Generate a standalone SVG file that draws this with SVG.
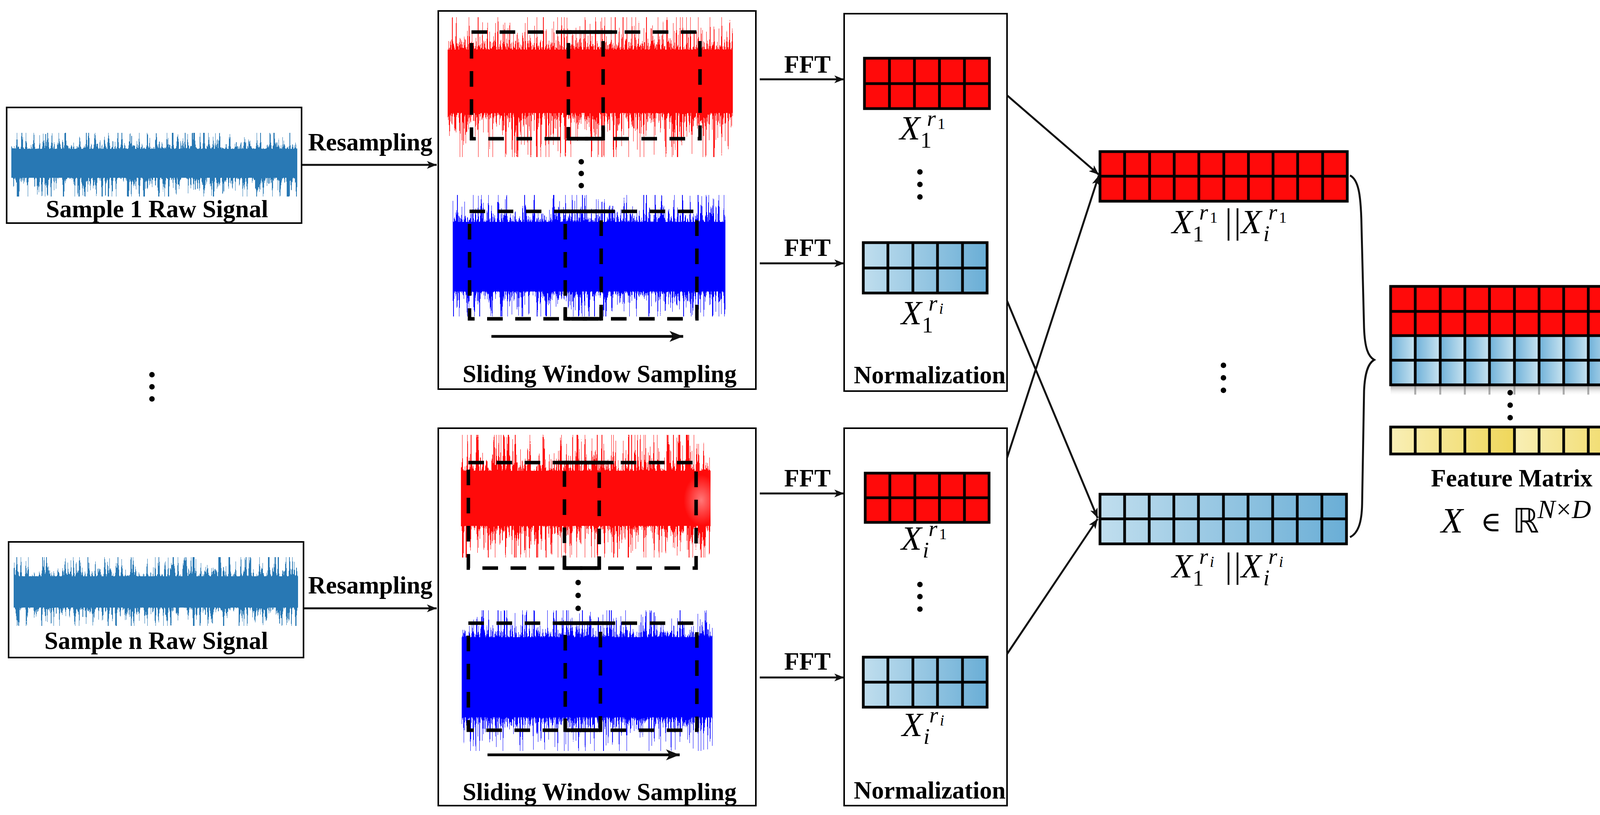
<svg xmlns="http://www.w3.org/2000/svg" width="4227" height="2086" viewBox="0 0 4227 2086">
<style>
.box{fill:none;stroke:#000;stroke-width:4}
.lbl{font-family:"Liberation Serif","Times New Roman",serif;font-weight:bold;font-size:63px;fill:#000;text-anchor:middle}
.mx{font-family:"Liberation Serif","Times New Roman",serif;font-style:italic;font-size:86px;fill:#000}
.ms{font-family:"Liberation Serif","Times New Roman",serif;font-style:italic;font-size:58px;fill:#000}
.mn{font-family:"Liberation Serif","Times New Roman",serif;font-size:58px;fill:#000}
.mss{font-family:"Liberation Serif","Times New Roman",serif;font-style:italic;font-size:40px;fill:#000}
.mns{font-family:"Liberation Serif","Times New Roman",serif;font-size:40px;fill:#000}
.bar{font-family:"Liberation Serif","Times New Roman",serif;font-size:90px;letter-spacing:5px;fill:#000}
.gl{fill:none;stroke:#000;stroke-width:7}
.dash{fill:none;stroke:#000;stroke-width:9;stroke-dasharray:40 32}
.solid{fill:none;stroke:#000;stroke-width:9}
.conn{fill:none;stroke:#111;stroke-width:5}
.dot{fill:#000}
.red{fill:#ff0a0a}
</style>
<defs>
<marker id="ah" viewBox="0 0 10 8" refX="10" refY="4" markerWidth="5" markerHeight="4" orient="auto"><path d="M0,0 L10,4 L0,8 L2.5,4 z" fill="#111"/></marker>
<linearGradient id="gT45" x1="0" y1="0" x2="0" y2="1"><stop offset="0" stop-color="#000" stop-opacity="0"/><stop offset="0.55" stop-color="#000" stop-opacity="0.65"/><stop offset="1" stop-color="#000" stop-opacity="1"/></linearGradient>
<linearGradient id="gB45" x1="0" y1="0" x2="0" y2="1"><stop offset="0" stop-color="#000" stop-opacity="1"/><stop offset="0.45" stop-color="#000" stop-opacity="0.65"/><stop offset="1" stop-color="#000" stop-opacity="0"/></linearGradient>
<linearGradient id="gT57" x1="0" y1="0" x2="0" y2="1"><stop offset="0" stop-color="#000" stop-opacity="0"/><stop offset="0.43" stop-color="#000" stop-opacity="0.65"/><stop offset="1" stop-color="#000" stop-opacity="1"/></linearGradient>
<linearGradient id="gB57" x1="0" y1="0" x2="0" y2="1"><stop offset="0" stop-color="#000" stop-opacity="1"/><stop offset="0.57" stop-color="#000" stop-opacity="0.65"/><stop offset="1" stop-color="#000" stop-opacity="0"/></linearGradient>
<filter id="fRawT" x="0" y="0" width="1" height="1" color-interpolation-filters="sRGB">
<feTurbulence type="fractalNoise" baseFrequency="0.2 0.0005" numOctaves="3" seed="3" result="t"/>
<feColorMatrix in="t" type="matrix" values="0 0 0 0 0 0 0 0 0 0 0 0 0 0 0 1.7 0 0 0 -0.35" result="n"/>
<feComponentTransfer in="n" result="f"><feFuncA type="table" tableValues="0.35 0.35 0.35 0.35 0.35 0.35 0.35 0.36 0.38 0.41 0.45 0.50 0.56 0.64 0.74 0.86 1 1 1 1 1"/></feComponentTransfer>
<feComposite in="SourceAlpha" in2="f" operator="arithmetic" k2="1" k3="1" k4="-0.5" result="s"/>
<feComponentTransfer in="s" result="m"><feFuncA type="discrete" tableValues="0 1"/></feComponentTransfer>
<feFlood flood-color="#2878b4"/><feComposite operator="in" in2="m"/>
</filter>
<filter id="fRawB" x="0" y="0" width="1" height="1" color-interpolation-filters="sRGB">
<feTurbulence type="fractalNoise" baseFrequency="0.2 0.0005" numOctaves="3" seed="17" result="t"/>
<feColorMatrix in="t" type="matrix" values="0 0 0 0 0 0 0 0 0 0 0 0 0 0 0 1.7 0 0 0 -0.35" result="n"/>
<feComponentTransfer in="n" result="f"><feFuncA type="table" tableValues="0.35 0.35 0.35 0.35 0.35 0.35 0.35 0.36 0.38 0.41 0.45 0.50 0.56 0.64 0.74 0.86 1 1 1 1 1"/></feComponentTransfer>
<feComposite in="SourceAlpha" in2="f" operator="arithmetic" k2="1" k3="1" k4="-0.5" result="s"/>
<feComponentTransfer in="s" result="m"><feFuncA type="discrete" tableValues="0 1"/></feComponentTransfer>
<feFlood flood-color="#2878b4"/><feComposite operator="in" in2="m"/>
</filter>
<filter id="fRedT" x="0" y="0" width="1" height="1" color-interpolation-filters="sRGB">
<feTurbulence type="fractalNoise" baseFrequency="0.3 0.0005" numOctaves="3" seed="5" result="t"/>
<feColorMatrix in="t" type="matrix" values="0 0 0 0 0 0 0 0 0 0 0 0 0 0 0 1.6 0 0 0 -0.3" result="n"/>
<feComponentTransfer in="n" result="f"><feFuncA type="table" tableValues="0.35 0.35 0.35 0.35 0.35 0.35 0.35 0.36 0.38 0.41 0.45 0.50 0.56 0.64 0.74 0.86 1 1 1 1 1"/></feComponentTransfer>
<feComposite in="SourceAlpha" in2="f" operator="arithmetic" k2="1" k3="1" k4="-0.5" result="s"/>
<feComponentTransfer in="s" result="m"><feFuncA type="discrete" tableValues="0 1"/></feComponentTransfer>
<feFlood flood-color="#ff0a0a"/><feComposite operator="in" in2="m"/>
</filter>
<filter id="fRedB" x="0" y="0" width="1" height="1" color-interpolation-filters="sRGB">
<feTurbulence type="fractalNoise" baseFrequency="0.3 0.0005" numOctaves="3" seed="23" result="t"/>
<feColorMatrix in="t" type="matrix" values="0 0 0 0 0 0 0 0 0 0 0 0 0 0 0 1.6 0 0 0 -0.3" result="n"/>
<feComponentTransfer in="n" result="f"><feFuncA type="table" tableValues="0.35 0.35 0.35 0.35 0.35 0.35 0.35 0.36 0.38 0.41 0.45 0.50 0.56 0.64 0.74 0.86 1 1 1 1 1"/></feComponentTransfer>
<feComposite in="SourceAlpha" in2="f" operator="arithmetic" k2="1" k3="1" k4="-0.5" result="s"/>
<feComponentTransfer in="s" result="m"><feFuncA type="discrete" tableValues="0 1"/></feComponentTransfer>
<feFlood flood-color="#ff0a0a"/><feComposite operator="in" in2="m"/>
</filter>
<filter id="fBluT" x="0" y="0" width="1" height="1" color-interpolation-filters="sRGB">
<feTurbulence type="fractalNoise" baseFrequency="0.3 0.0005" numOctaves="3" seed="9" result="t"/>
<feColorMatrix in="t" type="matrix" values="0 0 0 0 0 0 0 0 0 0 0 0 0 0 0 1.6 0 0 0 -0.3" result="n"/>
<feComponentTransfer in="n" result="f"><feFuncA type="table" tableValues="0.35 0.35 0.35 0.35 0.35 0.35 0.35 0.36 0.38 0.41 0.45 0.50 0.56 0.64 0.74 0.86 1 1 1 1 1"/></feComponentTransfer>
<feComposite in="SourceAlpha" in2="f" operator="arithmetic" k2="1" k3="1" k4="-0.5" result="s"/>
<feComponentTransfer in="s" result="m"><feFuncA type="discrete" tableValues="0 1"/></feComponentTransfer>
<feFlood flood-color="#0000ff"/><feComposite operator="in" in2="m"/>
</filter>
<filter id="fBluB" x="0" y="0" width="1" height="1" color-interpolation-filters="sRGB">
<feTurbulence type="fractalNoise" baseFrequency="0.3 0.0005" numOctaves="3" seed="31" result="t"/>
<feColorMatrix in="t" type="matrix" values="0 0 0 0 0 0 0 0 0 0 0 0 0 0 0 1.6 0 0 0 -0.3" result="n"/>
<feComponentTransfer in="n" result="f"><feFuncA type="table" tableValues="0.35 0.35 0.35 0.35 0.35 0.35 0.35 0.36 0.38 0.41 0.45 0.50 0.56 0.64 0.74 0.86 1 1 1 1 1"/></feComponentTransfer>
<feComposite in="SourceAlpha" in2="f" operator="arithmetic" k2="1" k3="1" k4="-0.5" result="s"/>
<feComponentTransfer in="s" result="m"><feFuncA type="discrete" tableValues="0 1"/></feComponentTransfer>
<feFlood flood-color="#0000ff"/><feComposite operator="in" in2="m"/>
</filter>
<linearGradient id="blueH" x1="0" y1="0" x2="1" y2="0"><stop offset="0" stop-color="#c0deee"/><stop offset="1" stop-color="#6aaed6"/></linearGradient>
<linearGradient id="cellB" x1="0" y1="0" x2="1" y2="0"><stop offset="0" stop-color="#6fb1d9"/><stop offset="1" stop-color="#c8e3f0"/></linearGradient>
<linearGradient id="cellY" x1="0" y1="0" x2="1" y2="0"><stop offset="0" stop-color="#f9efb6"/><stop offset="1" stop-color="#efd75a"/></linearGradient>
<pattern id="patB" patternUnits="userSpaceOnUse" x="3560" y="0" width="63.3" height="100"><rect width="63.3" height="100" fill="url(#cellB)"/></pattern>
<pattern id="patY" patternUnits="userSpaceOnUse" x="3560" y="0" width="316.5" height="100"><rect width="316.5" height="100" fill="url(#cellY)"/></pattern>
<linearGradient id="shadow" x1="0" y1="0" x2="0" y2="1"><stop offset="0" stop-color="#666" stop-opacity="0.55"/><stop offset="1" stop-color="#fff" stop-opacity="0"/></linearGradient>
<radialGradient id="fade"><stop offset="0" stop-color="#fff" stop-opacity="0.45"/><stop offset="1" stop-color="#fff" stop-opacity="0"/></radialGradient>
</defs>
<rect width="4227" height="2086" fill="#fff"/>

<!-- Sample 1 raw signal -->
<g id="sample1">
<rect class="box" x="17" y="275" width="755" height="296"/>
<rect x="29" y="340" width="732" height="75" fill="url(#gT45)" filter="url(#fRawT)"/>
<rect x="29" y="415" width="732" height="88" fill="url(#gB45)" filter="url(#fRawB)"/>
<text class="lbl" x="402" y="556">Sample 1 Raw Signal</text>
</g>

<!-- Sample n raw signal -->
<g id="samplen">
<rect class="box" x="22" y="1387" width="755" height="296"/>
<rect x="35" y="1426" width="728" height="90" fill="url(#gT45)" filter="url(#fRawT)"/>
<rect x="35" y="1516" width="728" height="86" fill="url(#gB45)" filter="url(#fRawB)"/>
<text class="lbl" x="400" y="1661">Sample n Raw Signal</text>
</g>

<g id="dots-left"><circle class="dot" cx="389" cy="959" r="7"/><circle class="dot" cx="389" cy="990" r="7"/><circle class="dot" cx="389" cy="1021" r="7"/></g>

<!-- Sliding window 1 -->
<g id="sliding1">
<rect class="box" x="1122" y="28" width="813" height="968" stroke-width="3"/>
<rect x="1146" y="44" width="730" height="152" fill="url(#gT45)" filter="url(#fRedT)"/>
<rect x="1146" y="196" width="730" height="206" fill="url(#gB45)" filter="url(#fRedB)"/>
<rect class="dash" x="1207" y="82" width="337" height="273"/>
<rect class="dash" x="1455" y="82" width="337" height="273"/>
<path class="solid" d="M1442,82 H1580 M1455,355 H1544 M1455,325 V359 M1544,325 V359"/>
<circle class="dot" cx="1488" cy="414" r="7"/><circle class="dot" cx="1488" cy="444" r="7"/><circle class="dot" cx="1488" cy="475" r="7"/>
<rect x="1159" y="499" width="698" height="161" fill="url(#gT57)" filter="url(#fBluT)"/>
<rect x="1159" y="660" width="698" height="150" fill="url(#gB57)" filter="url(#fBluB)"/>
<rect class="dash" x="1202" y="541" width="337" height="275"/>
<rect class="dash" x="1447" y="541" width="337" height="275"/>
<path class="solid" d="M1435,541 H1574 M1447,816 H1539 M1447,786 V820 M1539,786 V820"/>
<line x1="1258" y1="861" x2="1749" y2="861" stroke="#000" stroke-width="7" marker-end="url(#ah)"/>
<text class="lbl" x="1535" y="978">Sliding Window Sampling</text>
</g>

<!-- Sliding window n -->
<g id="slidingn">
<rect class="box" x="1122" y="1096" width="813" height="966" stroke-width="3"/>
<rect x="1180" y="1113" width="639" height="167" fill="url(#gT45)" filter="url(#fRedT)"/>
<rect x="1180" y="1280" width="639" height="147" fill="url(#gB45)" filter="url(#fRedB)"/>
<ellipse cx="1795" cy="1280" rx="45" ry="65" fill="url(#fade)"/>
<rect class="dash" x="1199" y="1184" width="335" height="270"/>
<rect class="dash" x="1445" y="1184" width="337" height="270"/>
<path class="solid" d="M1431,1184 H1571 M1445,1454 H1534 M1445,1424 V1458 M1534,1424 V1458"/>
<circle class="dot" cx="1480" cy="1491" r="7"/><circle class="dot" cx="1480" cy="1524" r="7"/><circle class="dot" cx="1480" cy="1557" r="7"/>
<rect x="1182" y="1562" width="642" height="160" fill="url(#gT57)" filter="url(#fBluT)"/>
<rect x="1182" y="1722" width="642" height="200" fill="url(#gB57)" filter="url(#fBluB)"/>
<rect class="dash" x="1199" y="1595" width="338" height="274"/>
<rect class="dash" x="1447" y="1595" width="337" height="274"/>
<path class="solid" d="M1432,1595 H1575 M1447,1869 H1537 M1447,1839 V1873 M1537,1839 V1873"/>
<line x1="1248" y1="1932" x2="1740" y2="1932" stroke="#000" stroke-width="7" marker-end="url(#ah)"/>
<text class="lbl" x="1535" y="2048">Sliding Window Sampling</text>
</g>

<!-- Normalization 1 -->
<g id="norm1">
<rect class="box" x="2161" y="35" width="417" height="966" stroke-width="3"/>
<rect class="red" x="2213" y="149" width="320" height="129"/>
<path class="gl" d="M2213,149 H2533 V278 H2213 Z M2213,214 H2533 M2277,149 V278 M2341,149 V278 M2405,149 V278 M2469,149 V278"/>
<text class="mx" x="2303" y="357">X</text><text class="mn" x="2356" y="378">1</text><text class="ms" x="2373" y="322">r</text><text class="mns" x="2400" y="330">1</text>
<circle class="dot" cx="2355" cy="440" r="7"/><circle class="dot" cx="2355" cy="472" r="7"/><circle class="dot" cx="2355" cy="504" r="7"/>
<rect x="2210" y="621" width="317" height="129" fill="url(#blueH)"/>
<path class="gl" d="M2210,621 H2527 V750 H2210 Z M2210,686 H2527 M2273,621 V750 M2337,621 V750 M2400,621 V750 M2464,621 V750"/>
<text class="mx" x="2307" y="830">X</text><text class="mn" x="2360" y="851">1</text><text class="ms" x="2377" y="795">r</text><text class="mss" x="2404" y="803">i</text>
<text class="lbl" x="2380" y="981">Normalization</text>
</g>

<!-- Normalization n -->
<g id="normn">
<rect class="box" x="2161" y="1096" width="417" height="966" stroke-width="3"/>
<rect class="red" x="2215" y="1211" width="317" height="126"/>
<path class="gl" d="M2215,1211 H2532 V1337 H2215 Z M2215,1274 H2532 M2278,1211 V1337 M2342,1211 V1337 M2405,1211 V1337 M2469,1211 V1337"/>
<text class="mx" x="2307" y="1407">X</text><text class="ms" x="2362" y="1427">i</text><text class="ms" x="2377" y="1372">r</text><text class="mns" x="2404" y="1380">1</text>
<circle class="dot" cx="2355" cy="1496" r="7"/><circle class="dot" cx="2355" cy="1527" r="7"/><circle class="dot" cx="2355" cy="1559" r="7"/>
<rect x="2210" y="1682" width="317" height="128" fill="url(#blueH)"/>
<path class="gl" d="M2210,1682 H2527 V1810 H2210 Z M2210,1746 H2527 M2273,1682 V1810 M2337,1682 V1810 M2400,1682 V1810 M2464,1682 V1810"/>
<text class="mx" x="2309" y="1884">X</text><text class="ms" x="2364" y="1904">i</text><text class="ms" x="2379" y="1849">r</text><text class="mss" x="2406" y="1857">i</text>
<text class="lbl" x="2380" y="2044">Normalization</text>
</g>

<!-- Concatenated r1 -->
<g id="concat1">
<rect class="red" x="2816" y="388" width="633" height="127"/>
<path class="gl" d="M2816,388 H3449 V515 H2816 Z M2816,451 H3449 M2879,388 V515 M2943,388 V515 M3006,388 V515 M3069,388 V515 M3133,388 V515 M3196,388 V515 M3259,388 V515 M3322,388 V515 M3386,388 V515"/>
<text class="mx" x="3000" y="597">X</text><text class="mn" x="3053" y="618">1</text><text class="ms" x="3070" y="562">r</text><text class="mns" x="3097" y="570">1</text>
<text class="bar" x="3136" y="597">||</text>
<text class="mx" x="3177" y="597">X</text><text class="ms" x="3234" y="617">i</text><text class="ms" x="3247" y="562">r</text><text class="mns" x="3274" y="570">1</text>
</g>

<g id="dots-mid"><circle class="dot" cx="3132" cy="935" r="7"/><circle class="dot" cx="3132" cy="967" r="7"/><circle class="dot" cx="3132" cy="999" r="7"/></g>

<!-- Concatenated ri -->
<g id="concati">
<rect x="2816" y="1265" width="631" height="127" fill="url(#blueH)"/>
<path class="gl" d="M2816,1265 H3447 V1392 H2816 Z M2816,1328 H3447 M2879,1265 V1392 M2942,1265 V1392 M3005,1265 V1392 M3068,1265 V1392 M3132,1265 V1392 M3195,1265 V1392 M3258,1265 V1392 M3321,1265 V1392 M3384,1265 V1392"/>
<text class="mx" x="3000" y="1478">X</text><text class="mn" x="3053" y="1499">1</text><text class="ms" x="3070" y="1443">r</text><text class="mss" x="3097" y="1451">i</text>
<text class="bar" x="3136" y="1478">||</text>
<text class="mx" x="3177" y="1478">X</text><text class="ms" x="3234" y="1498">i</text><text class="ms" x="3247" y="1443">r</text><text class="mss" x="3274" y="1451">i</text>
</g>

<!-- Feature matrix -->
<g id="feature">
<rect x="3560" y="987" width="633" height="26" fill="url(#shadow)"/>
<path d="M3623,987 V1010 M3687,987 V1010 M3750,987 V1010 M3813,987 V1010 M3877,987 V1010 M3940,987 V1010 M4003,987 V1010 M4066,987 V1010 M4130,987 V1010" stroke="#777" stroke-width="5" stroke-opacity="0.6"/>
<rect class="red" x="3560" y="733" width="633" height="126"/>
<rect x="3560" y="859" width="633" height="126" fill="url(#patB)"/>
<path class="gl" d="M3560,733 H4193 V985 H3560 Z M3560,797 H4193 M3560,859 H4193 M3560,922 H4193 M3623,733 V985 M3687,733 V985 M3750,733 V985 M3813,733 V985 M3877,733 V985 M3940,733 V985 M4003,733 V985 M4066,733 V985 M4130,733 V985"/>
<circle class="dot" cx="3866" cy="1005" r="7"/><circle class="dot" cx="3866" cy="1037" r="7"/><circle class="dot" cx="3866" cy="1069" r="7"/>
<rect x="3560" y="1093" width="633" height="69" fill="url(#patY)"/>
<path class="gl" d="M3560,1093 H4193 V1162 H3560 Z M3623,1093 V1162 M3687,1093 V1162 M3750,1093 V1162 M3813,1093 V1162 M3877,1093 V1162 M3940,1093 V1162 M4003,1093 V1162 M4066,1093 V1162 M4130,1093 V1162"/>
<text class="lbl" x="3870" y="1245">Feature Matrix</text>
<text x="3689" y="1363" font-family="Liberation Serif, serif" font-style="italic" font-size="92">X</text>
<text x="3790" y="1360" font-family="DejaVu Serif, serif" font-size="72">∈</text>
<text x="3872" y="1363" font-family="DejaVu Sans, sans-serif" font-size="86">ℝ</text>
<text y="1326" font-family="Liberation Serif, serif" font-size="68"><tspan x="3936" font-style="italic">N</tspan><tspan x="3984">×</tspan><tspan x="4024" font-style="italic">D</tspan></text>
</g>

<!-- Connectors -->
<g id="connectors">
<text class="lbl" x="948" y="385">Resampling</text>
<line class="conn" x1="774" y1="422" x2="1118" y2="422" marker-end="url(#ah)"/>
<text class="lbl" x="948" y="1519">Resampling</text>
<line class="conn" x1="777" y1="1557" x2="1118" y2="1557" marker-end="url(#ah)"/>
<text class="lbl" x="2067" y="186">FFT</text>
<line class="conn" x1="1945" y1="203" x2="2161" y2="203" marker-end="url(#ah)"/>
<text class="lbl" x="2067" y="655">FFT</text>
<line class="conn" x1="1945" y1="674" x2="2161" y2="674" marker-end="url(#ah)"/>
<text class="lbl" x="2067" y="1245">FFT</text>
<line class="conn" x1="1945" y1="1263" x2="2161" y2="1263" marker-end="url(#ah)"/>
<text class="lbl" x="2067" y="1714">FFT</text>
<line class="conn" x1="1945" y1="1734" x2="2161" y2="1734" marker-end="url(#ah)"/>
<line class="conn" x1="2578" y1="244" x2="2813" y2="447" marker-end="url(#ah)"/>
<line class="conn" x1="2578" y1="770" x2="2810" y2="1326" marker-end="url(#ah)"/>
<line class="conn" x1="2578" y1="1172" x2="2813" y2="449" marker-end="url(#ah)"/>
<line class="conn" x1="2578" y1="1674" x2="2810" y2="1328" marker-end="url(#ah)"/>
<path class="conn" d="M3456,449 C3478,460 3483,500 3485,560 L3492,840 C3494,890 3502,912 3518,921 C3502,930 3494,955 3492,1000 L3487,1290 C3486,1340 3476,1365 3456,1375"/>
</g>
</svg>
